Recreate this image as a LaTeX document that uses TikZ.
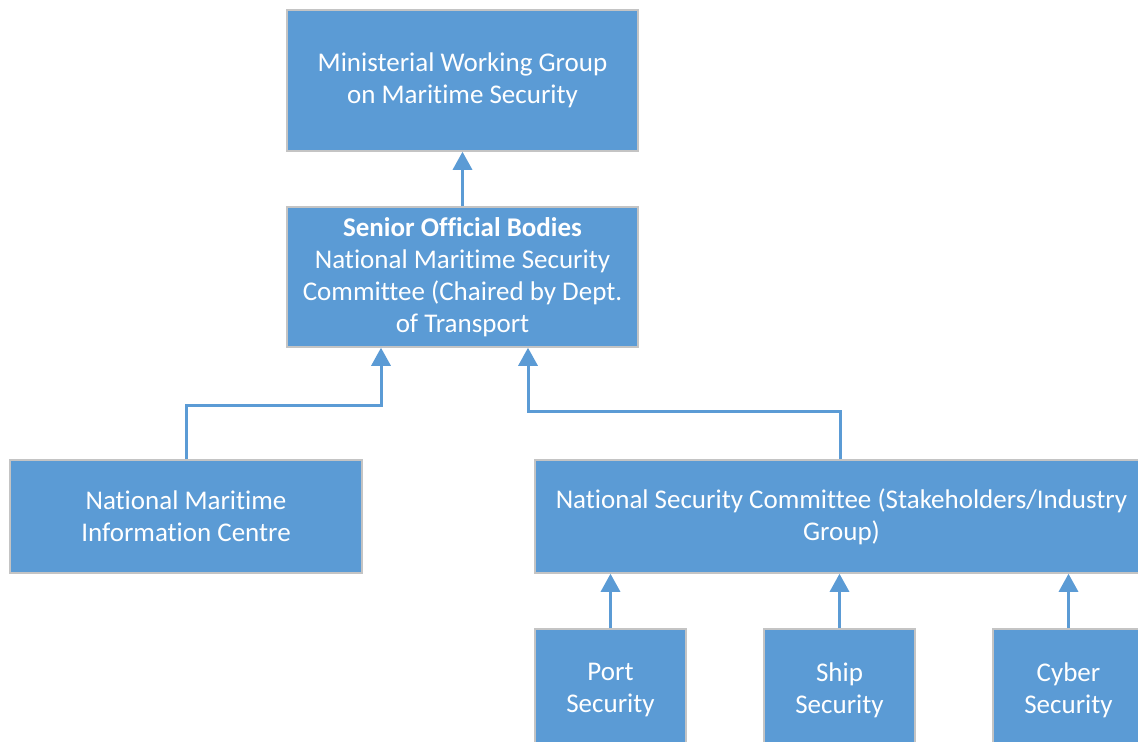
\documentclass[tikz,border=0pt]{standalone}
\usepackage{fontspec}
\setmainfont{Carlito}[Ligatures={NoCommon}]
\usetikzlibrary{arrows.meta}
\definecolor{boxblue}{HTML}{5B9BD5}
\definecolor{boxedge}{HTML}{C4C4C4}
\tikzset{
  orgbox/.style={draw=boxedge, line width=1.5bp, fill=boxblue, text=white, align=center,
    inner sep=0pt, font=\fontsize{27bp}{32bp}\selectfont},
  link/.style={draw=boxblue, line width=3bp, -{Triangle[length=18bp,width=19bp]}}
}
\begin{document}
\begin{tikzpicture}[x=1bp,y=-1bp]
\useasboundingbox (0,0) rectangle (1138,742);
\clip (0,0) rectangle (1138,742);
\node[orgbox, minimum width=351bp, minimum height=141bp] (mwg) at (462.5,80.5)
  {Ministerial Working Group\\on Maritime Security};
\node[orgbox, minimum width=351bp, minimum height=140bp] (sob) at (462.5,277)
  {\textbf{Senior Official Bodies}\\National Maritime Security\\Committee (Chaired by Dept.\\of Transport};
\node[orgbox, minimum width=352bp, minimum height=113bp] (nmic) at (186,516.5)
  {National Maritime\\Information Centre};
\node[orgbox, minimum width=613bp, minimum height=113bp] (nsc) at (841.5,516.5)
  {National Security Committee (Stakeholders/Industry\\Group)};
\node[orgbox, minimum width=151bp, minimum height=122bp] (port) at (610.5,690)
  {Port\\Security};
\node[orgbox, minimum width=151bp, minimum height=122bp] (ship) at (839.5,690)
  {Ship\\Security};
\node[orgbox, minimum width=151bp, minimum height=122bp] (cyber) at (1068.5,690)
  {Cyber\\Security};
\coordinate (l1) at (186,405);
\coordinate (l2) at (381,405);
\coordinate (r1) at (840,411);
\coordinate (r2) at (528,411);
\draw[link] (sob.north) -- (mwg.south);
\draw[link] (nmic.north -| l1) -- (l1) -- (l2) -- (l2 |- sob.south);
\draw[link] (nsc.north -| r1) -- (r1) -- (r2) -- (r2 |- sob.south);
\draw[link] (port.north) -- (port.north |- nsc.south);
\draw[link] (ship.north) -- (ship.north |- nsc.south);
\draw[link] (cyber.north) -- (cyber.north |- nsc.south);
\end{tikzpicture}
\end{document}
